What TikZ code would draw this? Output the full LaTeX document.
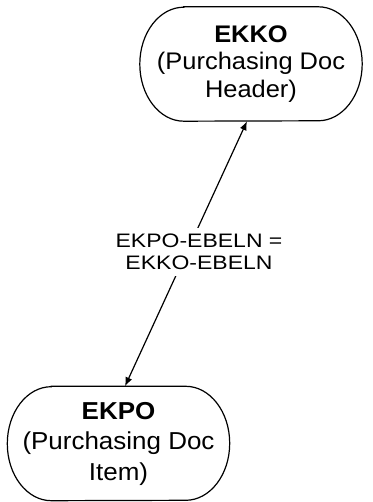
\documentclass[tikz,border=0pt]{standalone}
\usepackage{fontspec}
\setmainfont{Liberation Sans}
\newfontfamily\entfont[FakeStretch=1.06]{Liberation Sans}
\newfontfamily\lblfont[FakeStretch=1.18]{Liberation Sans}
\usetikzlibrary{arrows.meta}
\tikzset{
  entity/.style={minimum width=222pt, minimum height=114pt, inner sep=0pt, align=center,
    font=\entfont\fontsize{24}{27.5}\selectfont},
  outline/.style={draw=black, line width=1.2pt},
  rel/.style={line width=1.2pt, {Latex[length=9pt,width=7pt]}-{Latex[length=9pt,width=7pt]}},
  rellabel/.style={fill=white, inner sep=6pt, align=center, font=\lblfont\fontsize{19.5}{22}\selectfont}
}
\begin{document}
\begin{tikzpicture}[x=1pt,y=1pt]
\useasboundingbox (0,0) rectangle (372,502);
\node[entity] (ekko) at (251,438) {\textbf{EKKO}\\(Purchasing Doc\\Header)};
\node[entity, font=\entfont\fontsize{24.5}{30.5}\selectfont] (ekpo) at (118.5,58.5) {\textbf{EKPO}\\(Purchasing Doc\\Item)};
\foreach \n in {ekko,ekpo}{
  \draw[outline] ([xshift=44pt]\n.north west) -- ([xshift=-44pt]\n.north east)
    arc[start angle=90, end angle=-90, x radius=44pt, y radius=57pt]
    -- ([xshift=44pt]\n.south west)
    arc[start angle=270, end angle=90, x radius=44pt, y radius=57pt] -- cycle;
}
\draw[rel] ([xshift=6.5pt]ekpo.north) -- ([xshift=-4pt]ekko.south);
\node[rellabel] (lbl) at (199,250) {EKPO-EBELN =\\EKKO-EBELN};
\end{tikzpicture}
\end{document}
